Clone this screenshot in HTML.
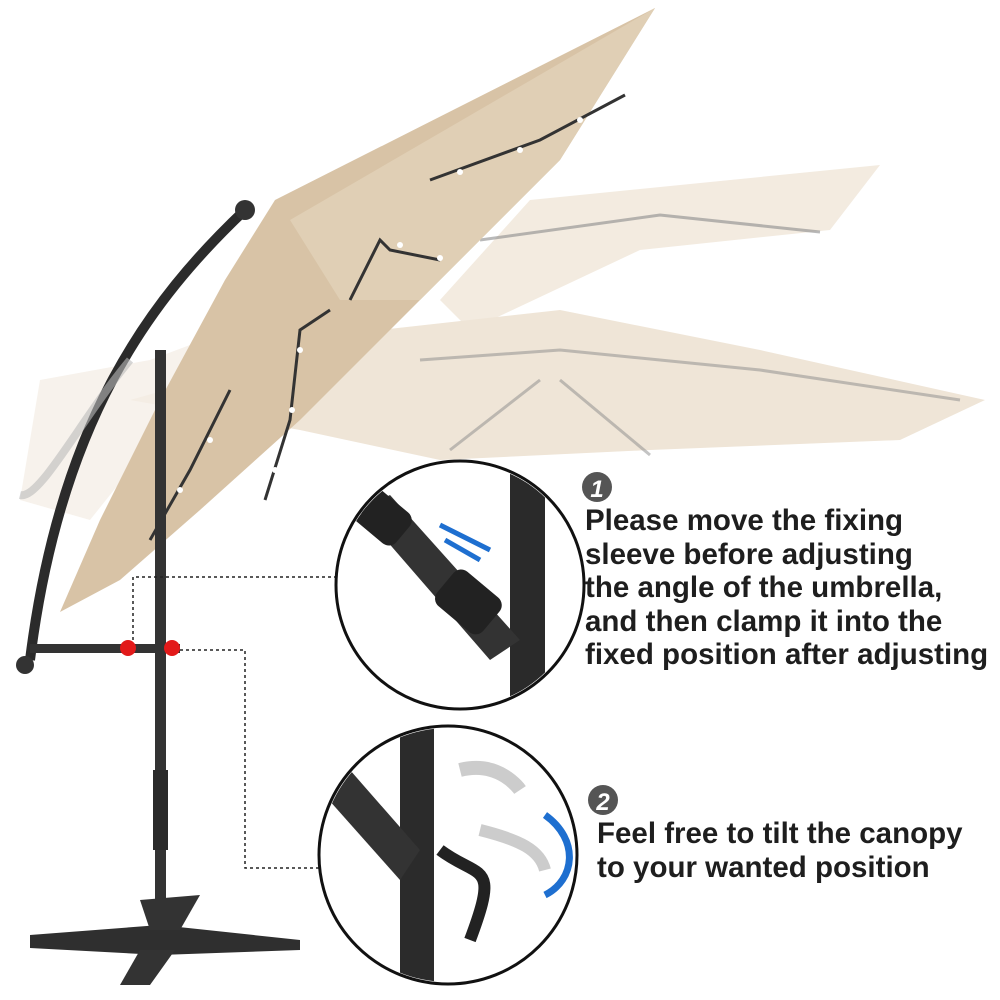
<!DOCTYPE html>
<html><head><meta charset="utf-8"><style>
html,body{margin:0;padding:0;background:#fff;}
.t{position:absolute;font-family:"Liberation Sans",sans-serif;font-size:29.5px;color:#1e1e1e;line-height:33.5px;font-weight:bold;letter-spacing:0px;white-space:nowrap}
</style></head><body>
<div style="position:relative;width:1000px;height:1000px;overflow:hidden">
<svg width="1000" height="1000" viewBox="0 0 1000 1000" style="position:absolute;left:0;top:0">
<polygon points="530,200 880,165 830,230 640,250 470,330 440,300" fill="#f3ebe0"/>
<polygon points="130,400 380,330 560,310 760,350 985,400 900,440 650,450 440,460 300,430" fill="#efe5d7"/>
<polygon points="40,380 150,360 230,330 170,420 90,520 20,500" fill="#f5efe7" opacity="0.8"/>
<polyline points="480,240 660,215 820,232" stroke="#8a8a8a" stroke-width="3" fill="none" opacity="0.6"/>
<polyline points="420,360 560,350 760,370 960,400" stroke="#8a8a8a" stroke-width="3" fill="none" opacity="0.5"/>
<polyline points="540,380 450,450" stroke="#8a8a8a" stroke-width="3" fill="none" opacity="0.5"/>
<polyline points="560,380 650,455" stroke="#8a8a8a" stroke-width="3" fill="none" opacity="0.5"/>
<polygon points="655,8 560,160 420,300 300,420 200,510 120,580 60,612 100,520 160,400 225,280 275,200" fill="#d8c3a6"/>
<polygon points="655,8 560,160 420,300 340,300 290,220" fill="#e0cfb5"/>
<polyline points="430,180 540,140 625,95" stroke="#333" stroke-width="3" fill="none"/>
<polyline points="330,310 300,330 290,420 265,500" stroke="#333" stroke-width="3" fill="none"/>
<polyline points="230,390 190,470 150,540" stroke="#333" stroke-width="3" fill="none"/>
<polyline points="350,300 380,240 390,250 440,260" stroke="#333" stroke-width="3" fill="none"/>
<g fill="#fff"><circle cx="460" cy="172" r="3"/><circle cx="520" cy="150" r="3"/><circle cx="580" cy="120" r="3"/><circle cx="300" cy="350" r="3"/><circle cx="292" cy="410" r="3"/><circle cx="275" cy="470" r="3"/><circle cx="210" cy="440" r="3"/><circle cx="180" cy="490" r="3"/><circle cx="400" cy="245" r="3"/><circle cx="440" cy="258" r="3"/></g>
<path d="M245,210 C150,300 60,420 30,660" stroke="#2b2b2b" stroke-width="10" fill="none"/>
<path d="M130,360 C80,420 40,500 20,495" stroke="#bbb" stroke-width="8" fill="none" opacity="0.6"/>
<circle cx="245" cy="210" r="10" fill="#333"/>
<circle cx="25" cy="665" r="9" fill="#333"/>
<rect x="155" y="350" width="11" height="610" fill="#333"/>
<rect x="153" y="770" width="15" height="80" fill="#2a2a2a"/>
<rect x="30" y="644" width="150" height="9" fill="#333"/>
<circle cx="128" cy="648" r="8" fill="#e21a1a"/>
<circle cx="172" cy="648" r="8" fill="#e21a1a"/>
<polygon points="30,935 160,925 300,940 300,950 160,955 30,948" fill="#2f2f2f"/>
<polygon points="140,900 200,895 180,930 150,930" fill="#333"/>
<polygon points="140,950 175,950 150,985 120,985" fill="#333"/>
<polyline points="133,640 133,577 335,577" stroke="#222" stroke-width="1.5" stroke-dasharray="3,3" fill="none"/>
<polyline points="180,650 245,650 245,868 320,868" stroke="#222" stroke-width="1.5" stroke-dasharray="3,3" fill="none"/>
<circle cx="460" cy="585" r="124" fill="#fff" stroke="#111" stroke-width="3"/>
<clipPath id="c1"><circle cx="460" cy="585" r="122"/></clipPath>
<g clip-path="url(#c1)">
<polygon points="510,470 545,470 545,720 510,720" fill="#2a2a2a"/>
<polygon points="360,510 390,495 520,640 490,660" fill="#333"/>
<rect x="350" y="495" width="60" height="40" rx="10" transform="rotate(40 380 515)" fill="#222"/>
<rect x="440" y="580" width="60" height="45" rx="10" transform="rotate(40 470 600)" fill="#222"/>
<path d="M440,525 L490,550 M445,540 L480,560" stroke="#1e6fd0" stroke-width="5"/>
</g>
<circle cx="448" cy="855" r="129" fill="#fff" stroke="#111" stroke-width="3"/>
<clipPath id="c2"><circle cx="448" cy="855" r="127"/></clipPath>
<g clip-path="url(#c2)">
<rect x="400" y="725" width="34" height="260" fill="#2b2b2b"/>
<polygon points="320,790 350,770 420,850 400,880" fill="#333"/>
<path d="M460,770 C500,760 520,790 520,790" stroke="#ccc" stroke-width="14" fill="none"/>
<path d="M440,850 C480,880 500,860 470,940" stroke="#222" stroke-width="12" fill="none"/>
<path d="M480,830 C520,840 540,850 545,870" stroke="#ccc" stroke-width="12" fill="none"/>
<path d="M545,815 C580,840 575,880 545,895" stroke="#1e6fd0" stroke-width="7" fill="none"/>
</g>
<circle cx="597" cy="487" r="15" fill="#555"/>
<text x="597" y="497" font-family="Liberation Sans" font-weight="bold" font-style="italic" font-size="24" fill="#fff" text-anchor="middle">1</text>
<circle cx="603" cy="800" r="15" fill="#555"/>
<text x="603" y="810" font-family="Liberation Sans" font-weight="bold" font-style="italic" font-size="24" fill="#fff" text-anchor="middle">2</text>
</svg>
<div class="t" style="left:585px;top:504px">Please move the fixing<br>sleeve before adjusting<br>the angle of the umbrella,<br>and then clamp it into the<br>fixed position after adjusting</div>
<div class="t" style="left:597px;top:817px">Feel free to tilt the canopy<br>to your wanted position</div>
</div>
</body></html>
